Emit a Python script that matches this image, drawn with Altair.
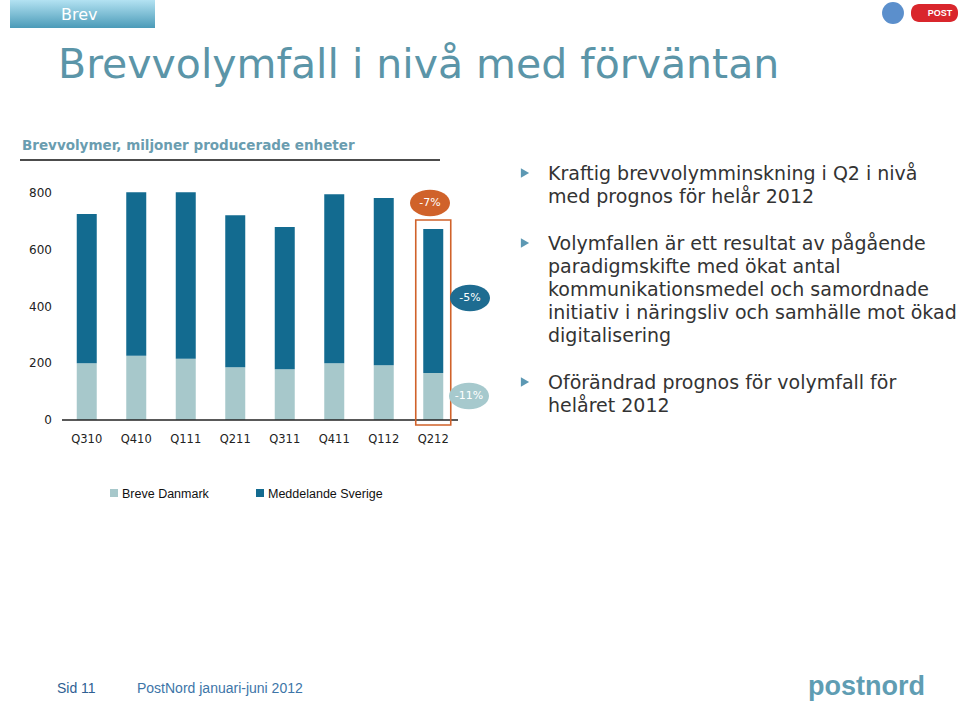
import altair as alt
import pandas as pd

# ---------------- data ----------------
quarters = ["Q310", "Q410", "Q111", "Q211", "Q311", "Q411", "Q112", "Q212"]
breve_danmark = [200, 226, 216, 186, 179, 200, 193, 166]
meddelande_sverige = [526, 577, 587, 536, 501, 596, 589, 507]
series_names = ["Breve Danmark", "Meddelande Sverige"]
y_ticks = [0, 200, 400, 600, 800]
change_total = "-7%"
change_sverige = "-5%"
change_danmark = "-11%"
highlight_quarter = "Q212"

tab_text = "Brev"
title_text = "Brevvolymfall i nivå med förväntan"
subtitle_text = "Brevvolymer, miljoner producerade enheter"
bullet1 = ["Kraftig brevvolymminskning i Q2 i nivå", "med prognos för helår 2012"]
bullet2 = ["Volymfallen är ett resultat av pågående", "paradigmskifte med ökat antal",
           "kommunikationsmedel och samordnade",
           "initiativ i näringsliv och samhälle mot ökad", "digitalisering"]
bullet3 = ["Oförändrad prognos för volymfall för", "helåret 2012"]
footer_page = "Sid 11"
footer_text = "PostNord januari-juni 2012"
logo_text = "postnord"

rows = []
for i, q in enumerate(quarters):
    rows.append({"quarter": q, "series": series_names[0], "value": breve_danmark[i], "order": 0})
    rows.append({"quarter": q, "series": series_names[1], "value": meddelande_sverige[i], "order": 1})
df = pd.DataFrame(rows)

FONT = "Liberation Sans"
WIDE = "DejaVu Sans"
TEAL = "#5b95a8"
DARK = "#136b90"
LIGHT = "#a7c8cb"
ORANGE = "#d0622a"

x_scale = alt.Scale(domain=quarters, range=[62, 458], paddingInner=0.6, paddingOuter=0.3)
y_scale = alt.Scale(domain=[0, 800], range=[420, 193], nice=False, zero=True)
color_scale = alt.Scale(domain=series_names, range=[LIGHT, DARK])

one = pd.DataFrame({"k": [0]})

def xq(field="quarter"):
    return alt.X(f"{field}:N", scale=x_scale, axis=None, sort=quarters)

# ---------------- chart marks ----------------
bars = alt.Chart(df).mark_bar(size=20).encode(
    x=xq(),
    y=alt.Y("value:Q", scale=y_scale, axis=None, stack="zero"),
    color=alt.Color("series:N", scale=color_scale, legend=None),
    order=alt.Order("order:Q"),
)

ylabels = alt.Chart(pd.DataFrame({"tick": y_ticks, "label": [str(t) for t in y_ticks]})).mark_text(
    align="right", baseline="middle", font=WIDE, fontSize=12, color="#222222"
).encode(x=alt.value(52), y=alt.Y("tick:Q", scale=y_scale, axis=None), text="label:N")

xlabels = alt.Chart(pd.DataFrame({"quarter": quarters})).mark_text(
    align="center", baseline="middle", font=WIDE, fontSize=11.5, color="#222222"
).encode(x=xq(), y=alt.value(440), text="quarter:N")

baseline = alt.Chart(pd.DataFrame({"zero": [0]})).mark_rule(color="#222222", strokeWidth=1.3).encode(
    y=alt.Y("zero:Q", scale=y_scale, axis=None), x=alt.value(62), x2=alt.value(458)
)

hbox = alt.Chart(pd.DataFrame({"quarter": [highlight_quarter]})).mark_bar(
    size=35, fillOpacity=0, stroke=ORANGE, strokeWidth=1.6
).encode(x=xq(), y=alt.value(220), y2=alt.value(425))

ELLIPSE = "M-1,0A1,0.66,0,1,1,1,0A1,0.66,0,1,1,-1,0Z"

def badge(text, cx, cy, fill):
    e = alt.Chart(one).mark_point(shape=ELLIPSE, filled=True, size=1600, color=fill, opacity=1).encode(
        x=alt.value(cx), y=alt.value(cy))
    t = alt.Chart(one).mark_text(font=WIDE, fontSize=11, color="white", align="center", baseline="middle").encode(
        x=alt.value(cx), y=alt.value(cy), text=alt.value(text))
    return [e, t]

badges = badge(change_total, 430, 203, ORANGE) + badge(change_sverige, 470, 298, "#1e6c91") + \
    badge(change_danmark, 469, 396, "#a6c9cd")

# ---------------- slide decorations ----------------
tab = alt.Chart(one).mark_rect(
    color=alt.LinearGradient(gradient="linear", x1=0, y1=0, x2=0, y2=1,
                             stops=[alt.GradientStop(color="#b3e2f2", offset=0),
                                    alt.GradientStop(color="#4b9bb8", offset=1)])
).encode(x=alt.value(10), x2=alt.value(155), y=alt.value(0), y2=alt.value(28))
tab_t = alt.Chart(one).mark_text(font=WIDE, fontSize=16, color="white", align="left", baseline="middle").encode(
    x=alt.value(61), y=alt.value(15), text=alt.value(tab_text))

title = alt.Chart(one).mark_text(font=WIDE, fontSize=41, color=TEAL, align="left", baseline="alphabetic").encode(
    x=alt.value(58), y=alt.value(78), text=alt.value(title_text))

subtitle = alt.Chart(one).mark_text(font=WIDE, fontSize=13.5, fontWeight="bold", color="#6a9db0",
                                    align="left", baseline="middle").encode(
    x=alt.value(22), y=alt.value(146), text=alt.value(subtitle_text))
sub_rule = alt.Chart(one).mark_rule(color="#111111", strokeWidth=1.5).encode(
    x=alt.value(20), x2=alt.value(440), y=alt.value(160))

def legend_item(name, x, color):
    sq = alt.Chart(one).mark_square(size=64, color=color, opacity=1).encode(x=alt.value(x), y=alt.value(493))
    t = alt.Chart(one).mark_text(font=FONT, fontSize=12.5, color="#111111", align="left", baseline="middle").encode(
        x=alt.value(x + 8), y=alt.value(494), text=alt.value(name))
    return [sq, t]

legend = legend_item(series_names[0], 114, LIGHT) + legend_item(series_names[1], 260, DARK)

def bullet(lines, y):
    tri = alt.Chart(one).mark_point(shape="triangle-right", filled=True, size=90, color="#5c98b3", opacity=1).encode(
        x=alt.value(525), y=alt.value(y - 7))
    t = alt.Chart(one).mark_text(font=WIDE, fontSize=19, color="#333333", align="left", baseline="alphabetic",
                                 lineHeight=23).encode(x=alt.value(548), y=alt.value(y), text=alt.value(lines))
    return [tri, t]

bullets = bullet(bullet1, 180) + bullet(bullet2, 250) + bullet(bullet3, 389)

footer1 = alt.Chart(one).mark_text(font=FONT, fontSize=14, color="#2f5f93", align="left", baseline="middle").encode(
    x=alt.value(57), y=alt.value(689), text=alt.value(footer_page))
footer2 = alt.Chart(one).mark_text(font=FONT, fontSize=14, color="#3d75a8", align="left", baseline="middle").encode(
    x=alt.value(137), y=alt.value(689), text=alt.value(footer_text))
logo = alt.Chart(one).mark_text(font=FONT, fontSize=27, fontWeight="bold", color="#5f9db3", align="left",
                                baseline="alphabetic").encode(
    x=alt.value(808), y=alt.value(695), text=alt.value(logo_text))

crest = alt.Chart(one).mark_point(shape="circle", filled=True, size=480, color="#5b8fcc", opacity=1).encode(
    x=alt.value(893), y=alt.value(13))
post_pill = alt.Chart(one).mark_rect(color="#d9262c", cornerRadius=8).encode(
    x=alt.value(911), x2=alt.value(958), y=alt.value(4), y2=alt.value(22))
post_t = alt.Chart(one).mark_text(font=FONT, fontSize=9, fontWeight="bold", color="white", align="center",
                                  baseline="middle").encode(x=alt.value(940), y=alt.value(13), text=alt.value("POST"))

chart = alt.layer(
    tab, tab_t, title, subtitle, sub_rule,
    bars, baseline, ylabels, xlabels, hbox, *badges,
    *legend, *bullets, footer1, footer2, logo, crest, post_pill, post_t,
).properties(
    width=960, height=703, autosize=alt.AutoSizeParams(type="none"), padding=0, background="white"
).configure_view(stroke=None)

chart.save("out.html", embed_options={"renderer": "svg", "actions": False})
